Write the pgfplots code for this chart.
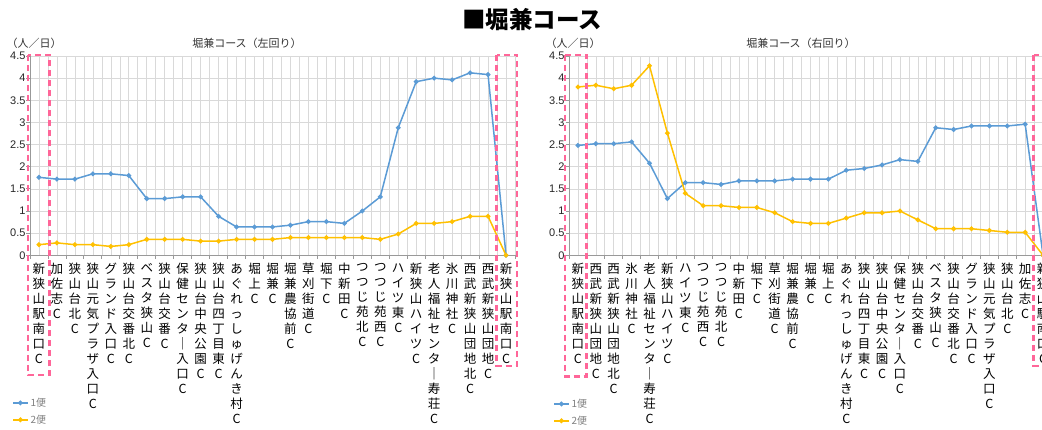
\documentclass[border=0pt]{standalone}
\usepackage{pgfplots}
\pgfplotsset{compat=1.18}
\usepackage{fontspec}
\setmainfont{Noto Sans CJK JP}
\newfontfamily\numfont{Liberation Sans}
\definecolor{s1}{HTML}{5B9BD5}
\definecolor{s2}{HTML}{FFC000}
\definecolor{pinkbox}{HTML}{FF6699}
\definecolor{gridc}{HTML}{D9D9D9}

% stack the characters of a label one above the other
\def\vlabx#1{\ifx#1\relax\else\hbox to 16pt{\hss#1\hss}\expandafter\vlabx\fi}
\newcommand\vlab[1]{\vtop{\baselineskip=15pt\lineskiplimit=-20pt\vlabx#1\relax}}

\pgfplotsset{horikane/.style={
  scale only axis, height=199.3pt, anchor=south west,
  xmin=0.5, xmax=27.5, ymin=0, ymax=4.5,
  xtick={1,...,27}, minor xtick={0.5,1.5,...,27.5},
  ytick={0,0.5,...,4.5}, minor ytick={0,0.5,...,4.5},
  grid=both,
  major grid style={gridc, line width=0.6pt},
  minor grid style={gridc, line width=0.6pt},
  axis x line*=bottom, axis y line*=left,
  axis line style={gray!80, line width=0.8pt},
  tick align=outside, major tick length=0pt, minor tick length=3.5pt,
  minor tick style={gray!80, line width=0.8pt},
  /pgf/number format/assume math mode=true,
  y tick label style={font=\numfont\fontsize{11}{11}\selectfont, text=black!85, xshift=-1pt},
  x tick label style={anchor=north, inner sep=0pt, yshift=-8pt, font=\fontsize{12.5}{12.5}\selectfont},
  legend style={draw=none, fill=none, anchor=north west, inner sep=0pt,
    font=\fontsize{10}{10}\selectfont\color{gray}, row sep=3pt},
  legend cell align=left,
  legend image code/.code={\draw[mark repeat=2,mark phase=2,#1] plot coordinates {(0cm,0cm) (0.26cm,0cm) (0.52cm,0cm)};},
  every axis plot/.append style={line width=1.5pt, mark=*, mark size=1.6pt},
}}

\begin{document}
\begin{tikzpicture}
\useasboundingbox (0,0) rectangle (1042pt,430pt);
\clip (0,0) rectangle (1042pt,430pt);

\node[font=\bfseries\fontsize{23.5}{23.5}\selectfont] at (532pt,410pt) {■堀兼コース};

% left loop
\begin{axis}[horikane, width=485pt, at={(30pt,174.7pt)},
  legend style={at={(-0.037,-0.705)}},
  xticklabels={\vlab{新狭山駅南口C},\vlab{加佐志C},\vlab{狭山台北C},\vlab{狭山元気プラザ入口C},\vlab{グランド入口C},\vlab{狭山台交番北C},\vlab{ベスタ狭山C},\vlab{狭山台交番C},\vlab{保健センタ｜入口C},\vlab{狭山台中央公園C},\vlab{狭山台四丁目東C},\vlab{あぐれっしゅげんき村C},\vlab{堀上C},\vlab{堀兼C},\vlab{堀兼農協前C},\vlab{草刈街道C},\vlab{堀下C},\vlab{中新田C},\vlab{つつじ苑北C},\vlab{つつじ苑西C},\vlab{ハイツ東C},\vlab{新狭山ハイツC},\vlab{老人福祉センタ｜寿荘C},\vlab{氷川神社C},\vlab{西武新狭山団地北C},\vlab{西武新狭山団地C},\vlab{新狭山駅南口C}}]
\addplot[s1] coordinates {(1,1.76) (2,1.72) (3,1.72) (4,1.84) (5,1.84) (6,1.80) (7,1.28) (8,1.28) (9,1.32) (10,1.32) (11,0.88) (12,0.64) (13,0.64) (14,0.64) (15,0.68) (16,0.76) (17,0.76) (18,0.72) (19,1.00) (20,1.32) (21,2.88) (22,3.92) (23,4.00) (24,3.96) (25,4.12) (26,4.08) (27,0)};
\addlegendentry{1便}
\addplot[s2] coordinates {(1,0.24) (2,0.28) (3,0.24) (4,0.24) (5,0.20) (6,0.24) (7,0.36) (8,0.36) (9,0.36) (10,0.32) (11,0.32) (12,0.36) (13,0.36) (14,0.36) (15,0.40) (16,0.40) (17,0.40) (18,0.40) (19,0.40) (20,0.36) (21,0.48) (22,0.72) (23,0.72) (24,0.76) (25,0.88) (26,0.88) (27,0)};
\addlegendentry{2便}
\end{axis}

% right loop
\begin{axis}[horikane, width=483pt, at={(569pt,174.7pt)},
  legend style={at={(-0.033,-0.71)}},
  xticklabels={\vlab{新狭山駅南口C},\vlab{西武新狭山団地C},\vlab{西武新狭山団地北C},\vlab{氷川神社C},\vlab{老人福祉センタ｜寿荘C},\vlab{新狭山ハイツC},\vlab{ハイツ東C},\vlab{つつじ苑西C},\vlab{つつじ苑北C},\vlab{中新田C},\vlab{堀下C},\vlab{草刈街道C},\vlab{堀兼農協前C},\vlab{堀兼C},\vlab{堀上C},\vlab{あぐれっしゅげんき村C},\vlab{狭山台四丁目東C},\vlab{狭山台中央公園C},\vlab{保健センタ｜入口C},\vlab{狭山台交番C},\vlab{ベスタ狭山C},\vlab{狭山台交番北C},\vlab{グランド入口C},\vlab{狭山元気プラザ入口C},\vlab{狭山台北C},\vlab{加佐志C},\vlab{新狭山駅南口C}}]
\addplot[s1] coordinates {(1,2.48) (2,2.52) (3,2.52) (4,2.56) (5,2.08) (6,1.28) (7,1.64) (8,1.64) (9,1.60) (10,1.68) (11,1.68) (12,1.68) (13,1.72) (14,1.72) (15,1.72) (16,1.92) (17,1.96) (18,2.04) (19,2.16) (20,2.12) (21,2.88) (22,2.84) (23,2.92) (24,2.92) (25,2.92) (26,2.96) (27,0)};
\addlegendentry{1便}
\addplot[s2] coordinates {(1,3.80) (2,3.84) (3,3.76) (4,3.84) (5,4.28) (6,2.76) (7,1.40) (8,1.12) (9,1.12) (10,1.08) (11,1.08) (12,0.96) (13,0.76) (14,0.72) (15,0.72) (16,0.84) (17,0.96) (18,0.96) (19,1.00) (20,0.80) (21,0.60) (22,0.60) (23,0.60) (24,0.56) (25,0.52) (26,0.52) (27,0)};
\addlegendentry{2便}
\end{axis}

\node[font=\fontsize{11}{11}\selectfont, text=black!80] at (247pt,387pt) {堀兼コース（左回り）};
\node[font=\fontsize{11}{11}\selectfont, text=black!80] at (801pt,387pt) {堀兼コース（右回り）};
\node[font=\fontsize{11}{11}\selectfont, text=black!80] at (34pt,387pt) {（人／日）};
\node[font=\fontsize{11}{11}\selectfont, text=black!80] at (573pt,387pt) {（人／日）};

\begin{scope}[pinkbox, line width=2.2pt, dash pattern=on 6pt off 4pt]
\draw (28pt,375pt) rectangle (49.5pt,55pt);
\draw (496.5pt,375pt) rectangle (517pt,64pt);
\draw (565pt,375pt) rectangle (586.5pt,53.5pt);
\draw (1033.5pt,375pt) rectangle (1060pt,64pt);
\end{scope}
\end{tikzpicture}
\end{document}
